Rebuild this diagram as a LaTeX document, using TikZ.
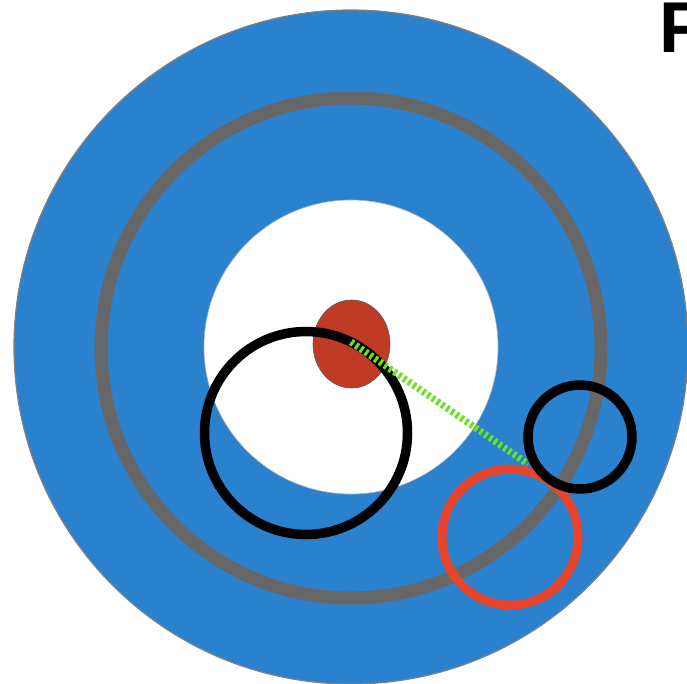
\documentclass[tikz,border=0pt]{standalone}
\usepackage{fontspec}
\setmainfont{Liberation Sans}
\usetikzlibrary{shapes.geometric}
\definecolor{diskblue}{HTML}{2A82CF}
\definecolor{ringgray}{HTML}{676767}
\definecolor{dotred}{HTML}{C13A25}
\definecolor{ringred}{HTML}{E8452E}
\definecolor{linegreen}{HTML}{6AE324}
\tikzset{
  disk/.style={fill=diskblue, draw=gray, line width=1.2pt},
  graybelt/.style={draw=ringgray, line width=13pt},
  hole/.style={fill=white, draw=gray!60, line width=0.6pt},
  blackring/.style={draw=black, line width=9.5pt},
  redring/.style={draw=ringred, line width=9pt},
  greenlink/.style={draw=linegreen, line width=7pt, dash pattern=on 3pt off 2.8pt},
}
\begin{document}
\begin{tikzpicture}[x=1pt,y=-1pt]
\useasboundingbox (0,0) rectangle (687,683);
\fill[white] (0,0) rectangle (687,683);
\path[disk] (351,347) circle (337);
\path[graybelt] (351,348) circle (250);
\path[hole] (351,347) circle (147);
\node[ellipse, minimum width=77pt, minimum height=88pt, fill=dotred, draw=gray!70!black, line width=0.6pt, inner sep=0pt] (dot) at (351.5,344) {};
\coordinate (gA) at (351,342);
\coordinate (gB) at (528,464);
\path[blackring] (306,433) circle (101.5);
\path[greenlink] (gA) -- (gB);
\path[redring] (510,537) circle (68);
\path[blackring] (580,437) circle (52);
\node[anchor=base west, inner sep=0pt, font=\fontsize{72}{72}\selectfont\bfseries] (F) at (659,52) {F};
\end{tikzpicture}
\end{document}
